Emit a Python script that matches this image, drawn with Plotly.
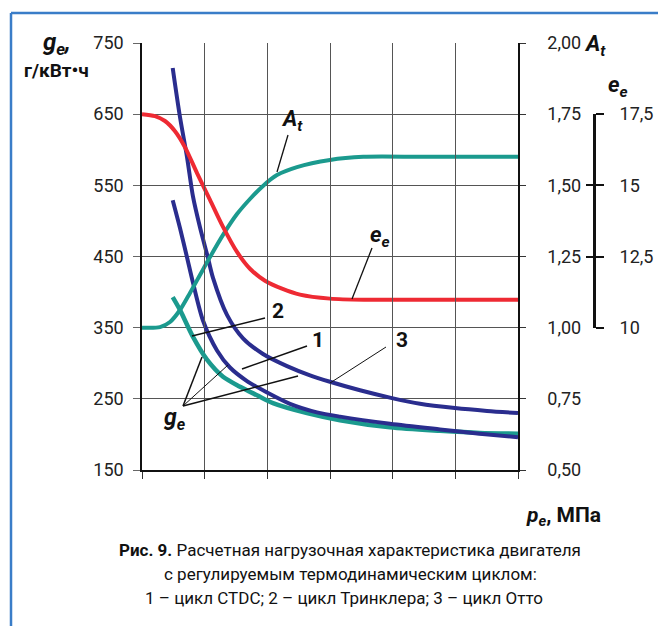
import plotly.graph_objects as go

W, H = 658, 626
def px(x): return x / W
def py(y): return 1 - y / H

# ---- data ----
# x: load (pe), relative units 0..6 along the axis (no tick labels shown)
at_x = [0, 0.287, 0.447, 0.606, 0.766, 0.925, 1.085, 1.293, 1.516, 1.723, 1.931, 2.154, 2.473, 3.0, 3.53, 4.5, 6.0]
at_y = [1.00, 1.002, 1.020, 1.062, 1.122, 1.185, 1.248, 1.326, 1.399, 1.452, 1.498, 1.536, 1.564, 1.589, 1.600, 1.600, 1.600]

ee_x = [0, 0.207, 0.367, 0.527, 0.686, 0.878, 1.085, 1.293, 1.516, 1.723, 1.963, 2.234, 2.521, 3.0, 3.558, 4.5, 6.0]
ee_y = [17.50, 17.43, 17.26, 16.90, 16.34, 15.43, 14.49, 13.54, 12.66, 12.07, 11.65, 11.37, 11.16, 11.02, 10.98, 10.98, 10.98]

ge3_x = [0.49, 0.606, 0.718, 0.814, 0.925, 1.053, 1.133, 1.356, 1.612, 1.931, 2.314, 2.681, 3.0, 3.479, 3.989, 4.436, 4.994, 5.505, 6.0]
ge3_y = [715, 646, 590, 534, 491, 448, 420, 368, 335, 313, 296, 283, 274, 262, 251, 243, 237, 233, 230]

ge1_x = [0.49, 0.606, 0.718, 0.814, 0.973, 1.197, 1.404, 1.675, 1.995, 2.362, 2.792, 3.16, 3.957, 4.755, 5.39, 6.0]
ge1_y = [529, 490, 449, 413, 360, 318, 294, 275, 259, 243, 231, 225, 215, 207, 201, 196]

ge2_x = [0.49, 0.606, 0.814, 1.037, 1.293, 1.564, 1.835, 2.09, 2.633, 3.16, 3.957, 4.755, 5.39, 6.0]
ge2_y = [393, 375, 337, 305, 281, 267, 255, 244, 230, 220, 210, 205, 202, 201]

ge_ticks = [150, 250, 350, 450, 550, 650, 750]
at_ticks = [0.50, 0.75, 1.00, 1.25, 1.50, 1.75, 2.00]
ee_ticks = [10, 12.5, 15, 17.5]
ee_ticktext = ["10", "12,5", "15", "17,5"]

RED = "#ee2a33"
TEAL = "#1b9a8e"
BLUE = "#2a2d8e"
FONT = "Roboto, Liberation Sans, sans-serif"

fig = go.Figure()
fig.add_trace(go.Scatter(x=at_x, y=at_y, yaxis="y2", mode="lines", line=dict(color=TEAL, width=4, shape="spline", smoothing=0.8), hoverinfo="skip"))
fig.add_trace(go.Scatter(x=ee_x, y=ee_y, yaxis="y4", mode="lines", line=dict(color=RED, width=4, shape="spline", smoothing=0.8), hoverinfo="skip"))
fig.add_trace(go.Scatter(x=ge3_x, y=ge3_y, mode="lines", line=dict(color=BLUE, width=4, shape="spline", smoothing=0.8), hoverinfo="skip"))
fig.add_trace(go.Scatter(x=ge2_x, y=ge2_y, mode="lines", line=dict(color=TEAL, width=4.5, shape="spline", smoothing=0.8), hoverinfo="skip"))
fig.add_trace(go.Scatter(x=ge1_x, y=ge1_y, mode="lines", line=dict(color=BLUE, width=4, shape="spline", smoothing=0.8), hoverinfo="skip"))
# hidden traces so the e_e scale axes are drawn
fig.add_trace(go.Scatter(x=[None], y=[None], yaxis="y3", hoverinfo="skip"))
fig.add_trace(go.Scatter(x=[None], y=[None], yaxis="y5", hoverinfo="skip"))

dom = [py(470), py(43)]
ee_dom = [py(328), py(114)]
tickfont = dict(family=FONT, size=18, color="#222")

fig.update_layout(
    width=W, height=H, margin=dict(l=0, r=0, t=0, b=0, autoexpand=False),
    paper_bgcolor="white", plot_bgcolor="rgba(0,0,0,0)", showlegend=False,
    separators=", ",
    xaxis=dict(domain=[px(142), px(518)], range=[0, 6], dtick=1, tick0=0, automargin=False,
               showticklabels=False, ticks="outside", ticklen=7, tickcolor="#333", tickwidth=1,
               showgrid=True, gridcolor="#555", gridwidth=1, zeroline=False,
               showline=True, linecolor="#111", linewidth=2, fixedrange=True),
    yaxis=dict(domain=dom, range=[150, 750], tickvals=ge_ticks, ticks="outside", ticklen=7,
               tickcolor="#666", tickfont=tickfont, ticklabelstandoff=6, automargin=False,
               showgrid=True, gridcolor="#555", gridwidth=1, zeroline=False,
               showline=True, linecolor="#111", linewidth=1.5),
    yaxis2=dict(overlaying="y", side="right", anchor="x", range=[0.5, 2.0], tickvals=at_ticks,
                tickformat=".2f", ticks="outside", ticklen=6, tickcolor="#333", automargin=False,
                tickfont=tickfont, ticklabelstandoff=18,
                showgrid=False, zeroline=False, showline=True, linecolor="#111", linewidth=1.5),
    yaxis4=dict(overlaying="y", range=[5, 20], visible=False, automargin=False),
    yaxis3=dict(domain=ee_dom, anchor="free", position=px(594), side="right", range=[10, 17.5],
                tickvals=ee_ticks, ticktext=ee_ticktext, ticks="outside", ticklen=8, tickwidth=2,
                tickcolor="#111", tickfont=tickfont, ticklabelstandoff=12, automargin=False,
                showgrid=False, zeroline=False, showline=True, linecolor="#111", linewidth=3),
    yaxis5=dict(domain=ee_dom, anchor="free", position=px(594), side="right", range=[10, 17.5],
                tickvals=ee_ticks, ticks="inside", ticklen=8, tickwidth=2, tickcolor="#111",
                automargin=False,
                showticklabels=False, showgrid=False, zeroline=False, showline=False),
)

shapes = []
def seg(x0, y0, x1, y1, w=1.3):
    shapes.append(dict(type="line", xref="paper", yref="paper", x0=px(x0), y0=py(y0), x1=px(x1), y1=py(y1),
                       line=dict(color="#111", width=w)))
# blue frame
shapes.append(dict(type="line", xref="paper", yref="paper", x0=px(11), y0=py(13), x1=1, y1=py(13), line=dict(color="#3a7dc8", width=2.5)))
shapes.append(dict(type="line", xref="paper", yref="paper", x0=px(11), y0=py(13), x1=px(11), y1=0, line=dict(color="#3a7dc8", width=2.5)))
# leader lines
seg(288, 135, 277, 172, 1.3)
seg(372, 248, 352, 299, 1.3)
seg(192, 336, 265, 318, 1.5)
seg(242, 369, 307, 346, 1.5)
seg(330, 383, 386, 347, 1.0)
seg(183, 406, 202, 357, 1.5)
seg(183, 406, 228, 365, 1.0)
seg(183, 406, 298, 376, 1.5)
fig.update_layout(shapes=shapes)

def txt(x, y, s, size=20, bold=False, italic=False, xanchor="center"):
    fig.add_annotation(xref="paper", yref="paper", x=px(x), y=py(y), text=s, showarrow=False,
                       xanchor=xanchor, yanchor="middle",
                       font=dict(family=FONT, size=size, color="#111",
                                 weight="bold" if bold else "normal",
                                 style="italic" if italic else "normal"))

txt(56, 43, "g<sub>e</sub>,", 24, True, True)
txt(56, 70, "г/кВт•ч", 19, True)
txt(595, 46, "A<sub>t</sub>", 22, True, True)
txt(618, 87, "e<sub>e</sub>", 22, True, True)
txt(292, 120, "A<sub>t</sub>", 22, True, True)
txt(380, 236, "e<sub>e</sub>", 22, True, True)
txt(278, 311, "2", 21, True)
txt(318, 340, "1", 21, True)
txt(402, 340, "3", 21, True)
txt(174, 419, "g<sub>e</sub>", 23, True, True)
txt(524, 516, "<i>p<sub>e</sub></i>, МПа", 21, True, xanchor="left")
txt(350, 550, "<b>Рис. 9.</b> Расчетная нагрузочная характеристика двигателя", 17)
txt(350, 574, "с регулируемым термодинамическим циклом:", 17)
txt(344, 598, "1 – цикл CTDC; 2 – цикл Тринклера; 3 – цикл Отто", 17)

fig.write_html("out.html")
